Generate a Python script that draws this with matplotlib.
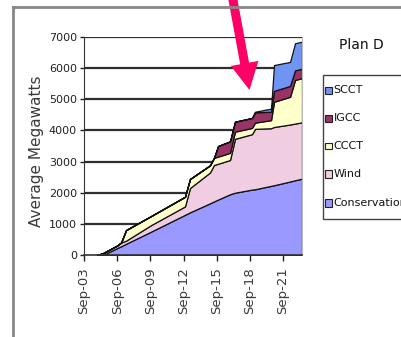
import numpy as np
import matplotlib
matplotlib.use('Agg')
import matplotlib.pyplot as plt
from matplotlib.patches import Polygon, Rectangle
from matplotlib.lines import Line2D

# resource build-out, average MW by resource (stacked)
years = [2004.85, 2005.39, 2006.65, 2007.02, 2007.47, 2009.73, 2012.80, 2013.25,
         2015.06, 2015.42, 2015.79, 2016.87, 2017.32, 2018.86, 2019.13, 2020.58,
         2020.85, 2022.30, 2022.75, 2023.38]
conservation = [0, 0, 220, 280, 360, 750, 1290, 1370, 1660, 1720, 1780, 1950,
                2000, 2100, 2110, 2220, 2240, 2360, 2400, 2450]
wind = [0, 60, 80, 120, 100, 210, 270, 780, 990, 1170, 1150, 1100, 1730, 1780,
        1940, 1850, 1870, 1830, 1820, 1810]
ccct = [0, 0, 0, 0, 340, 290, 310, 290, 230, 230, 230, 230, 230, 200, 200, 260,
        810, 890, 1400, 1420]
igcc = [0, 0, 0, 0, 0, 0, 0, 0, 0, 0, 340, 370, 320, 320, 330, 270, 350, 350,
        310, 300]
scct = [0, 0, 0, 0, 0, 0, 0, 0, 0, 0, 0, 0, 0, 0, 20, 100, 830, 770, 870, 870]

names = ['Conservation', 'Wind', 'CCCT', 'IGCC', 'SCCT']
colors = ['#9999ff', '#f0cde0', '#ffffcc', '#993366', '#6f94f4']

tick_years = [2003.667 + 3 * k for k in range(7)]
tick_labels = ['Sep-03', 'Sep-06', 'Sep-09', 'Sep-12', 'Sep-15', 'Sep-18', 'Sep-21']

W, H = 402, 337
fig = plt.figure(figsize=(W / 100, H / 100), dpi=100)
fig.patch.set_facecolor('white')

def fx(x):
    return x / W

def fy(y):
    return 1 - y / H

ax = fig.add_axes([fx(84), fy(255), fx(302) - fx(84), fy(37) - fy(255)])

for v in range(1000, 8000, 1000):
    ax.axhline(v, color='#2e2e2e', lw=1.6, zorder=0)

ax.stackplot(years, conservation, wind, ccct, igcc, scct, colors=colors,
             edgecolor='#111111', linewidth=0.9, zorder=2)

ax.set_xlim(2003.667, 2023.38)
ax.set_ylim(0, 7000)
ax.set_yticks(range(0, 8000, 1000))
ax.set_xticks(tick_years)
ax.set_xticklabels(tick_labels, rotation=90, fontsize=9.5, color='#3a3a3a',
                   family='DejaVu Sans')
for lab in ax.get_yticklabels():
    lab.set_fontsize(8)
    lab.set_color('#222222')
ax.tick_params(axis='y', length=3, width=1, pad=2, color='#222222')
ax.tick_params(axis='x', length=4, width=1, pad=5, color='#222222')

ax.spines['top'].set_visible(False)
ax.spines['right'].set_color('#bbbbbb')
ax.spines['left'].set_color('#333333')
ax.spines['bottom'].set_color('#333333')
ax.spines['bottom'].set_linewidth(1.2)

fig.text(fx(37), fy(151), 'Average Megawatts', rotation=90, ha='center',
         va='center', fontsize=11, color='#3a3a3a')

# outer frame (left and top edges)
fig.add_artist(Line2D([fx(13.5), fx(13.5)], [fy(6.5), fy(340)], color='#888888',
                      lw=2, transform=fig.transFigure))
fig.add_artist(Line2D([fx(13.5), fx(405)], [fy(6.5), fy(6.5)], color='#888888',
                      lw=2, transform=fig.transFigure))

# title and legend
fig.text(fx(361), fy(45), 'Plan D', ha='center', va='center', fontsize=10,
         color='#111111')
fig.add_artist(Rectangle((fx(323), fy(219)), fx(100), fy(75) - fy(219),
                         transform=fig.transFigure, facecolor='white',
                         edgecolor='#444444', lw=1))
row_y = [90, 118, 146, 174, 203]
for i, (name, col) in enumerate(zip(names[::-1], colors[::-1])):
    y = row_y[i]
    fig.add_artist(Rectangle((fx(325), fy(y + 3.5)), fx(7), fy(y - 3.5) - fy(y + 3.5),
                             transform=fig.transFigure, facecolor=col,
                             edgecolor='#222222', lw=0.8))
    fig.text(fx(333.5), fy(y), name, ha='left', va='center', fontsize=8,
             color='#111111')

# callout arrow
tip = np.array([249.5, 90.0])
d = np.array([16.5, 90.0])
d = d / np.hypot(*d)
n = np.array([d[1], -d[0]])
base = tip - d * 27
start = tip - d * 100
pts = [start + n * 4.5, base + n * 4.5, base + n * 14, tip,
       base - n * 14, base - n * 4.5, start - n * 4.5]
fig.add_artist(Polygon([(fx(p[0]), fy(p[1])) for p in pts], closed=True,
                       transform=fig.transFigure, facecolor='#ff0066',
                       edgecolor='none'))

fig.savefig('out.png', dpi=100)
